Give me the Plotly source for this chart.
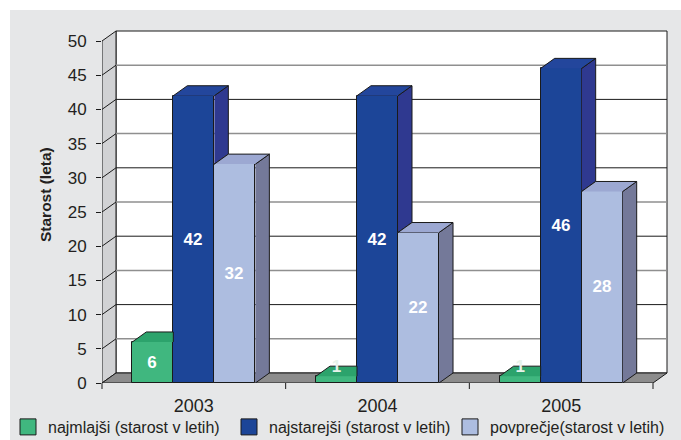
import plotly.graph_objects as go

# ---------------- data ----------------
years = ["2003", "2004", "2005"]
series_names = ["najmlajši (starost v letih)",
                "najstarejši (starost v letih)",
                "povprečje(starost v letih)"]
youngest = [6, 1, 1]
oldest = [42, 42, 46]
average = [32, 22, 28]
y_ticks = [0, 5, 10, 15, 20, 25, 30, 35, 40, 45, 50]
y_title = "Starost (leta)"

series_values = [youngest, oldest, average]
front_colors = ["#40b77f", "#1c4598", "#adbde0"]
top_colors = ["#2ca36c", "#23469c", "#9ca8d2"]
side_colors = ["#259060", "#2f3990", "#747999"]

FONT = "Liberation Sans, Arial, sans-serif"
TXT = "#231f20"

# ---------------- geometry ----------------
W, H = 681, 440
L, R, T, B = 102, 12, 29, 57
plot_w, plot_h = W - L - R, H - T - B
ncat = len(years)
ymax_tick = y_ticks[-1]
PX_X = 551 / ncat          # px per category
PX_Y = 342 / ymax_tick     # px per unit
xmax = plot_w / PX_X
ymax = plot_h / PX_Y
DX = 14 / PX_X             # depth offset in data units
DY = 10 / PX_Y
GROUP = 0.67
BW = GROUP / len(series_values)
offsets = [-GROUP / 2 + k * BW for k in range(len(series_values))]
centers = [i + 0.5 for i in range(ncat)]


def px(xd):
    return xd * PX_X / plot_w


fig = go.Figure()

# front faces (bars)
for s, (name, vals) in enumerate(zip(series_names, series_values)):
    fig.add_trace(go.Bar(
        x=centers, y=vals, width=BW, offset=offsets[s], name=name,
        marker=dict(color=front_colors[s], line=dict(color="#1a1a1a", width=1)),
        text=[str(v) for v in vals],
        textposition=["inside" if v >= 3 else "none" for v in vals],
        insidetextanchor="middle",
        textfont=dict(color="white", size=17, family=FONT, weight="bold"),
        hoverinfo="skip", showlegend=False,
    ))

# 3D tops and sides, derived from values
for s, vals in enumerate(series_values):
    tx, ty, sx, sy = [], [], [], []
    for i, v in enumerate(vals):
        xl = centers[i] + offsets[s]
        xr = xl + BW
        nxt = series_values[s + 1][i] if s + 1 < len(series_values) else None
        if nxt is not None and nxt >= v:
            pts = [(xl, v), (xl + DX, v + DY), (xr, v + DY), (xr, v)]
        else:
            pts = [(xl, v), (xl + DX, v + DY), (xr + DX, v + DY), (xr, v)]
        for a, b in pts:
            tx.append(a); ty.append(b)
        tx.append(None); ty.append(None)
        if nxt is None:
            spts = [(xr, 0), (xr + DX, DY), (xr + DX, v + DY), (xr, v)]
        elif nxt < v:
            spts = [(xr, nxt), (xr + DX, nxt + DY), (xr + DX, v + DY), (xr, v)]
        else:
            spts = []
        for a, b in spts:
            sx.append(a); sy.append(b)
        if spts:
            sx.append(None); sy.append(None)
    if sx:
        fig.add_trace(go.Scatter(x=sx, y=sy, mode="lines", fill="toself",
                                 fillcolor=side_colors[s],
                                 line=dict(color="#1a1a1a", width=1),
                                 showlegend=False, hoverinfo="skip"))
    fig.add_trace(go.Scatter(x=tx, y=ty, mode="lines", fill="toself",
                             fillcolor=top_colors[s],
                             line=dict(color="#1a1a1a", width=1),
                             showlegend=False, hoverinfo="skip"))

# small-value labels (don't fit inside bar)
for s, vals in enumerate(series_values):
    xs = [centers[i] + offsets[s] + BW / 2 for i, v in enumerate(vals) if v < 3]
    ys = [v + DY * 0.8 for v in vals if v < 3]
    ts = [str(v) for v in vals if v < 3]
    if xs:
        fig.add_trace(go.Scatter(x=xs, y=ys, mode="text", text=ts,
                                 textfont=dict(color="#e6f2ea", size=17, family=FONT, weight="bold"),
                                 showlegend=False, hoverinfo="skip"))

# legend entries (square swatches)
for s, name in enumerate(series_names):
    fig.add_trace(go.Scatter(x=[None], y=[None], mode="markers", name=name,
                             marker=dict(symbol="square", size=16, color=front_colors[s],
                                         line=dict(color="#1a1a1a", width=1)),
                             hoverinfo="skip"))

# ---------------- walls, floor, grid ----------------
shapes = []
shapes.append(dict(type="rect", xref="paper", yref="paper", layer="below",
                   x0=(0 - L) / plot_w, x1=(10 - L) / plot_w,
                   y0=-(B) / plot_h, y1=(H - B) / plot_h,
                   fillcolor="white", line=dict(width=0)))
shapes.append(dict(type="rect", xref="paper", yref="paper", layer="below",
                   x0=(0 - L) / plot_w, x1=(W - L) / plot_w,
                   y0=(H - B - 10) / plot_h, y1=(H - B) / plot_h,
                   fillcolor="white", line=dict(width=0)))
# back wall
shapes.append(dict(type="rect", xref="x", yref="y", layer="below",
                   x0=DX, x1=ncat + DX, y0=DY, y1=ymax_tick + DY,
                   fillcolor="white", line=dict(color="#1a1a1a", width=1)))
# side wall
shapes.append(dict(type="path", xref="x", yref="y", layer="below",
                   path=f"M0,0 L{DX},{DY} L{DX},{ymax_tick + DY} L0,{ymax_tick} Z",
                   fillcolor="#d1d2d4", line=dict(color="#1a1a1a", width=1)))
# gridlines
for t in y_ticks[1:-1]:
    col = "#1a1a1a" if t % 10 == 0 else "#8f8f8f"
    wid = 1 if t % 10 == 0 else 1.5
    shapes.append(dict(type="line", xref="x", yref="y", layer="below",
                       x0=DX, x1=ncat + DX, y0=t + DY, y1=t + DY,
                       line=dict(color=col, width=wid)))
    shapes.append(dict(type="line", xref="x", yref="y", layer="below",
                       x0=0, x1=DX, y0=t, y1=t + DY,
                       line=dict(color="#1a1a1a", width=1)))
# floor
shapes.append(dict(type="path", xref="x", yref="y", layer="below",
                   path=f"M0,0 L{ncat},0 L{ncat + DX},{DY} L{DX},{DY} Z",
                   fillcolor="#8c8c8c", line=dict(color="#1a1a1a", width=1)))
# x tick marks at category boundaries
for b in range(ncat + 1):
    shapes.append(dict(type="line", xref="paper", yref="paper",
                       x0=px(b), x1=px(b), y0=0, y1=-6 / plot_h,
                       line=dict(color="#1a1a1a", width=1)))

fig.update_layout(
    width=W, height=H,
    margin=dict(l=L, r=R, t=T, b=B, autoexpand=False),
    paper_bgcolor="#e6e7e8", plot_bgcolor="rgba(0,0,0,0)",
    barmode="overlay", bargap=0,
    font=dict(family=FONT, color=TXT, size=16),
    shapes=shapes,
    showlegend=True,
    legend=dict(orientation="h", x=(8 - L) / plot_w, xanchor="left",
                y=(H - B - 427) / plot_h, yanchor="middle",
                bgcolor="rgba(0,0,0,0)", font=dict(size=16, color=TXT, family=FONT),
                itemclick=False, itemdoubleclick=False, tracegroupgap=0,
                itemsizing="trace", entrywidth=176, entrywidthmode="pixels"),
    annotations=[dict(text=f"<b>{y_title}</b>", xref="paper", yref="paper",
                      x=(45 - L) / plot_w, y=(H - B - 195) / plot_h,
                      xanchor="center", yanchor="middle",
                      textangle=-90, showarrow=False,
                      font=dict(size=15.5, color=TXT, family=FONT))],
)
fig.update_xaxes(range=[0, xmax], tickvals=centers, ticktext=years,
                 showgrid=False, zeroline=False, showline=False, ticks="",
                 tickfont=dict(size=18, color=TXT), ticklabelstandoff=10, fixedrange=True)
fig.update_yaxes(range=[0, ymax], tickvals=y_ticks, showgrid=False, zeroline=False,
                 showline=False, ticks="outside", ticklen=5, tickcolor="#1a1a1a",
                 tickfont=dict(size=17, color=TXT), ticklabelstandoff=6, fixedrange=True)

fig.write_html("out.html")
